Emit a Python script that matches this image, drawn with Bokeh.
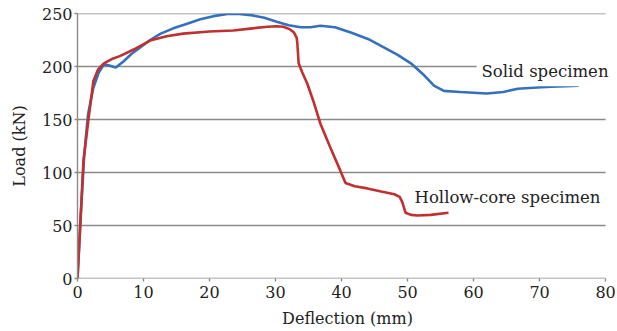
from bokeh.plotting import figure
from bokeh.models import Label, FixedTicker
from bokeh.embed import file_html
from bokeh.resources import INLINE

# Solid specimen (blue)
solid_x = [0, 0.5, 1.0, 1.6, 2.4, 3.2, 4.0, 4.8, 5.8, 7.0, 8.2, 9.5, 11.0, 12.6, 14.5, 16.5, 18.6, 20.6, 22.7, 24.5, 26.2, 28.3, 30.3, 32.0, 33.8, 35.3, 36.8, 39.0, 41.4, 44.0, 46.4, 48.5, 50.5, 52.3, 54.0, 55.5, 58.0, 62.0, 64.5, 66.7, 69.0, 71.7, 74.0, 75.9]
solid_y = [0, 60, 115, 155, 180, 194, 202, 201, 199, 205, 212, 218, 225, 231, 236, 240, 244.5, 247.5, 249.5, 249.5, 248.5, 246, 242, 239, 237, 237, 238.5, 237, 232, 226, 218, 211, 203, 193, 182, 177, 176, 174.5, 176, 179, 180, 181, 181.5, 182]

# Hollow-core specimen (red)
hollow_x = [0, 0.3, 0.9, 1.7, 2.4, 3.1, 4.0, 5.2, 6.5, 8.5, 11.0, 13.5, 16.0, 20.0, 23.6, 26.5, 28.8, 30.2, 31.2, 32.2, 32.8, 33.2, 33.3, 33.5, 34.0, 34.8, 35.8, 36.8, 38.2, 39.8, 40.6, 42.0, 43.9, 46.0, 48.0, 48.8, 49.2, 49.7, 50.5, 51.5, 53.5, 56.2]
hollow_y = [0, 36, 111, 152, 186, 197, 203, 207, 210, 216, 224.5, 228.5, 231, 233, 234, 236, 237.5, 238, 237.5, 235, 232, 227, 222, 203, 195, 184, 166, 146, 125, 102, 90, 87, 85, 82, 79.5, 77, 72, 62, 60, 59.4, 60, 62]

x_ticks = [0, 10, 20, 30, 40, 50, 60, 70, 80]
y_ticks = [0, 50, 100, 150, 200, 250]
x_min, x_max = 0, 80

FONT = "DejaVu Serif"
GRAY = "#8a8a8a"
TXT = "#222222"

p = figure(width=617, height=331, x_range=(0, 81.8), y_range=(0, 250),
           output_backend="svg", toolbar_location=None,
           min_border_left=77, min_border_right=0, min_border_top=13, min_border_bottom=53)
p.outline_line_color = None
p.background_fill_color = "white"
p.xgrid.grid_line_color = None
p.ygrid.grid_line_color = None

# horizontal grid lines spanning the axis extent
p.segment(x0=[x_min] * len(y_ticks), x1=[x_max] * len(y_ticks), y0=y_ticks, y1=y_ticks,
          line_color=GRAY, line_width=1.4)

p.line(solid_x, solid_y, line_color="#3570bd", line_width=2.6)
p.line(hollow_x, hollow_y, line_color="#c0302e", line_width=2.6)

p.xaxis.ticker = FixedTicker(ticks=x_ticks)
p.yaxis.ticker = FixedTicker(ticks=y_ticks)
for ax in (p.xaxis, p.yaxis):
    ax.axis_line_color = GRAY
    ax.axis_line_width = 1.4
    ax.major_tick_line_color = GRAY
    ax.major_tick_line_width = 1.4
    ax.major_tick_out = 3
    ax.major_tick_in = 0
    ax.minor_tick_line_color = None
    ax.major_label_text_font = FONT
    ax.major_label_text_font_size = "16px"
    ax.major_label_text_color = TXT
    ax.axis_label_text_font = FONT
    ax.axis_label_text_font_size = "16px"
    ax.axis_label_text_font_style = "normal"
    ax.axis_label_text_color = TXT
p.xaxis.axis_line_color = None
p.xaxis.axis_label = "Deflection (mm)"
p.yaxis.axis_label = "Load (kN)"
p.xaxis.major_label_standoff = 4
p.yaxis.major_label_standoff = 2
p.xaxis.axis_label_standoff = 8
p.yaxis.axis_label_standoff = 10

p.add_layout(Label(x=60.45, y=195, text="Solid specimen", text_font=FONT,
                   text_font_size="16.5px", text_color=TXT, text_baseline="middle",
                   background_fill_color="white", padding=5))
p.add_layout(Label(x=50.6, y=76.5, text="Hollow-core specimen", text_font=FONT,
                   text_font_size="16.5px", text_color=TXT, text_baseline="middle",
                   background_fill_color="white", padding=3))

open("out.html", "w").write(file_html(p, INLINE))
